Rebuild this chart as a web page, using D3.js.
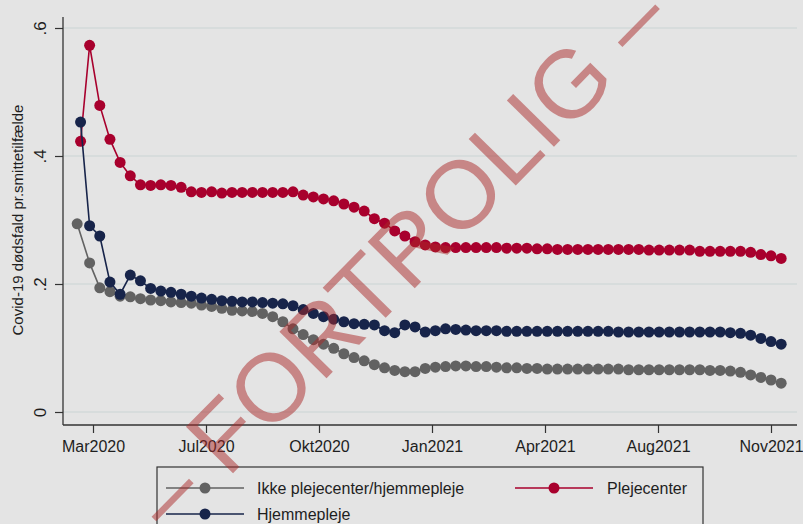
<!DOCTYPE html>
<html><head><meta charset="utf-8">
<script src="https://cdn.jsdelivr.net/npm/d3@7"></script>
<style>html,body{margin:0;padding:0;background:#e4e4e4}svg{display:block}</style>
</head><body>
<svg id="chart" width="803" height="524"></svg>
<script>
// ---- data ----
const dates = ["2020-03-15","2020-03-23","2020-04-01","2020-04-10","2020-04-19","2020-04-28","2020-05-07","2020-05-16","2020-05-25","2020-06-03",
"2020-06-12","2020-06-21","2020-06-30","2020-07-09","2020-07-18","2020-07-27","2020-08-05","2020-08-14","2020-08-23","2020-09-01",
"2020-09-10","2020-09-19","2020-09-28","2020-10-07","2020-10-16","2020-10-25","2020-11-03","2020-11-12","2020-11-21","2020-11-30",
"2020-12-09","2020-12-18","2020-12-27","2021-01-05","2021-01-14","2021-01-23","2021-02-01","2021-02-10","2021-02-19","2021-02-28",
"2021-03-09","2021-03-18","2021-03-27","2021-04-05","2021-04-14","2021-04-23","2021-05-02","2021-05-11","2021-05-20","2021-05-29",
"2021-06-07","2021-06-16","2021-06-25","2021-07-04","2021-07-13","2021-07-22","2021-07-31","2021-08-09","2021-08-18","2021-08-27",
"2021-09-05","2021-09-14","2021-09-23","2021-10-02","2021-10-11","2021-10-20","2021-10-29","2021-11-07","2021-11-16","2021-11-25"];
const grayFirstDate = "2020-03-12";

const seriesNames = ["Ikke plejecenter/hjemmepleje", "Plejecenter", "Hjemmepleje"];

const ikkeValues = [0.294,0.233,0.194,0.188,0.181,0.180,0.177,0.175,0.174,0.172,
0.171,0.170,0.167,0.165,0.162,0.159,0.158,0.157,0.154,0.149,
0.141,0.130,0.121,0.113,0.106,0.0995,0.091,0.085,0.080,0.074,
0.069,0.065,0.063,0.063,0.068,0.070,0.071,0.072,0.072,0.071,
0.071,0.070,0.069,0.069,0.068,0.068,0.067,0.067,0.067,0.067,
0.067,0.067,0.067,0.067,0.066,0.066,0.066,0.066,0.066,0.066,
0.066,0.066,0.065,0.065,0.064,0.062,0.058,0.054,0.050,0.045];

const plejecenterValues = [0.423,0.573,0.479,0.426,0.390,0.369,0.355,0.354,0.355,0.354,
0.351,0.344,0.343,0.344,0.342,0.343,0.343,0.343,0.343,0.343,
0.343,0.344,0.339,0.336,0.333,0.330,0.325,0.320,0.314,0.302,
0.295,0.283,0.275,0.266,0.261,0.258,0.257,0.257,0.257,0.257,
0.257,0.257,0.256,0.256,0.256,0.255,0.255,0.254,0.254,0.254,
0.254,0.254,0.254,0.254,0.254,0.254,0.253,0.253,0.253,0.253,
0.253,0.251,0.251,0.251,0.251,0.251,0.2495,0.246,0.244,0.240];

const hjemmeplejeValues = [0.453,0.291,0.275,0.203,0.184,0.214,0.205,0.193,0.189,0.187,
0.184,0.181,0.178,0.176,0.174,0.173,0.172,0.172,0.171,0.170,
0.169,0.166,0.160,0.154,0.149,0.145,0.141,0.138,0.137,0.136,
0.127,0.124,0.136,0.133,0.125,0.127,0.130,0.129,0.128,0.127,
0.127,0.127,0.126,0.126,0.126,0.126,0.126,0.126,0.126,0.126,
0.126,0.126,0.126,0.125,0.125,0.125,0.125,0.125,0.125,0.125,
0.125,0.125,0.125,0.125,0.124,0.123,0.120,0.115,0.110,0.106];

const xTickDates = ["2020-03-26","2020-07-04","2020-10-12","2021-01-20","2021-04-30","2021-08-08","2021-11-16"];
const xTickLabels = ["Mar2020","Jul2020","Okt2020","Jan2021","Apr2021","Aug2021","Nov2021"];
const yTickValues = [0, 0.2, 0.4, 0.6];
const yTickLabels = ["0", ".2", ".4", ".6"];
const yTitle = "Covid-19 dødsfald pr.smittetilfælde";
const watermark = "– FORTROLIG –";

// ---- build ----
const parse = d3.timeParse("%Y-%m-%d");
const colors = ["#626262", "#a8002d", "#17244a"];
const seriesData = [
  ikkeValues.map((v,i) => ({d: parse(i === 0 ? grayFirstDate : dates[i]), v})),
  plejecenterValues.map((v,i) => ({d: parse(dates[i]), v})),
  hjemmeplejeValues.map((v,i) => ({d: parse(dates[i]), v}))
];

const svg = d3.select("#chart");
const font = "'Liberation Sans', Arial, sans-serif";
const plotL = 63, plotR = 797, plotT = 17, plotB = 425;

const x = d3.scaleTime()
  .domain([parse(xTickDates[0]), parse(xTickDates[xTickDates.length-1])])
  .range([93, 771]);
const y = d3.scaleLinear().domain([0, 0.6]).range([412, 28]);

svg.append("rect").attr("width",803).attr("height",524).attr("fill","#e4e4e4");

// gridlines
svg.append("g").selectAll("line").data(yTickValues).join("line")
  .attr("x1", plotL).attr("x2", plotR)
  .attr("y1", d => y(d)).attr("y2", d => y(d))
  .attr("stroke", "#d3dada").attr("stroke-width", 1.3);

// y axis
const yAxis = d3.axisLeft(y).tickValues(yTickValues).tickSize(8).tickFormat((d,i) => yTickLabels[i]);
const gy = svg.append("g").attr("transform", `translate(${plotL},0)`).call(yAxis);
gy.select(".domain").remove();
gy.selectAll(".tick line").attr("stroke", "#333").attr("stroke-width", 1.2);
gy.selectAll(".tick text")
  .attr("font-family", font).attr("font-size", 17).attr("fill", "#1e1e1e")
  .attr("text-anchor", "middle").attr("x", null).attr("dy", null)
  .attr("transform", "translate(-17,0) rotate(-90)")
  .attr("y", 0);
svg.append("line").attr("x1", plotL).attr("x2", plotL).attr("y1", plotT).attr("y2", plotB)
  .attr("stroke", "#333").attr("stroke-width", 1.3);

// x axis
const xAxis = d3.axisBottom(x).tickValues(xTickDates.map(parse)).tickSize(8)
  .tickFormat((d,i) => xTickLabels[i]);
const gx = svg.append("g").attr("transform", `translate(0,${plotB})`).call(xAxis);
gx.select(".domain").remove();
gx.selectAll(".tick line").attr("stroke", "#333").attr("stroke-width", 1.2);
gx.selectAll(".tick text").attr("font-family", font).attr("font-size", 16)
  .attr("fill", "#1e1e1e").attr("y", 16).attr("dy", "0.71em");
svg.append("line").attr("x1", plotL).attr("x2", plotR).attr("y1", plotB).attr("y2", plotB)
  .attr("stroke", "#333").attr("stroke-width", 1.3);

// y title
svg.append("text").attr("transform", "translate(23,220) rotate(-90)")
  .attr("text-anchor", "middle").attr("font-family", font).attr("font-size", 15)
  .attr("fill", "#1e1e1e").text(yTitle);

// series
const line = d3.line().x(p => x(p.d)).y(p => y(p.v));
seriesData.forEach((s, i) => {
  const g = svg.append("g");
  g.append("path").datum(s).attr("d", line).attr("fill", "none")
    .attr("stroke", colors[i]).attr("stroke-width", 1.6);
  g.selectAll("circle").data(s).join("circle")
    .attr("cx", p => x(p.d)).attr("cy", p => y(p.v)).attr("r", 5.5)
    .attr("fill", colors[i]);
});

// legend
const leg = svg.append("g");
leg.append("rect").attr("x", 157).attr("y", 467).attr("width", 546).attr("height", 80)
  .attr("fill", "none").attr("stroke", "#333").attr("stroke-width", 1.2);
const legPos = [{lx:166, ty:488, tx:257}, {lx:515, ty:488, tx:607}, {lx:166, ty:514, tx:257}];
seriesNames.forEach((name, i) => {
  const p = legPos[i];
  leg.append("line").attr("x1", p.lx).attr("x2", p.lx + 78).attr("y1", p.ty).attr("y2", p.ty)
    .attr("stroke", colors[i]).attr("stroke-width", 1.6);
  leg.append("circle").attr("cx", p.lx + 39).attr("cy", p.ty).attr("r", 5.5).attr("fill", colors[i]);
  leg.append("text").attr("x", p.tx).attr("y", p.ty + 6).attr("font-family", font)
    .attr("font-size", 16).attr("fill", "#1e1e1e").text(name);
});

// watermark (deliberately runs past the top edge, as in the reference)
svg.append("text").attr("transform", "translate(405,262) rotate(-45.5)")
  .attr("text-anchor", "middle").attr("dominant-baseline", "middle")
  .attr("font-family", font).attr("font-size", 96)
  .attr("fill", "rgba(170,40,40,0.5)").text(watermark);
</script>
</body></html>
